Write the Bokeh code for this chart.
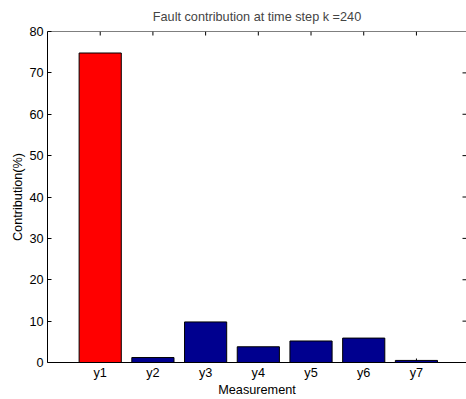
import math
from bokeh.plotting import figure
from bokeh.models import ColumnDataSource, Range1d, LinearAxis, FixedTicker, Span
from bokeh.embed import file_html
from bokeh.resources import INLINE

categories = ["y1", "y2", "y3", "y4", "y5", "y6", "y7"]
values = [74.8, 1.2, 9.8, 3.8, 5.2, 5.9, 0.5]
bar_colors = ["#FF0000", "#00008F", "#00008F", "#00008F", "#00008F", "#00008F", "#00008F"]
y_ticks = [0, 10, 20, 30, 40, 50, 60, 70, 80]

X_END = 7.95
Y_END = 80

xs = list(range(1, len(categories) + 1))
src = ColumnDataSource(dict(x=xs, top=values, color=bar_colors))

FONT = "Liberation Sans"
FS = "12.7px"

p = figure(width=466, height=399, output_backend="svg", toolbar_location=None,
           x_range=Range1d(0, X_END), y_range=Range1d(0, Y_END),
           min_border_left=47, min_border_right=0, min_border_top=0, min_border_bottom=37,
           x_axis_location=None, y_axis_location=None)
p.title.text = "Fault contribution at time step k =240"
p.title.text_font = FONT
p.title.text_font_size = FS
p.title.text_font_style = "normal"
p.title.align = "center"
p.title.offset = 0
p.title.standoff = 15
p.outline_line_color = None
p.xgrid.visible = False
p.ygrid.visible = False

# inward bottom ticks drawn first so the bars cover them
p.ray(x=xs, y=[0] * len(xs), length=4, length_units="screen",
      angle=math.pi / 2, line_color="black", line_width=1)

p.vbar(x="x", top="top", width=0.8, bottom=0, source=src,
       fill_color="color", line_color="black", line_width=1)

def style(ax):
    ax.axis_line_color = "black"
    ax.axis_line_width = 1
    ax.major_tick_in = 4
    ax.major_tick_out = 0
    ax.minor_tick_line_color = None
    ax.major_tick_line_color = "black"
    ax.major_label_text_font = FONT
    ax.major_label_text_font_size = FS
    ax.major_label_text_color = "black"
    ax.axis_label_text_font = FONT
    ax.axis_label_text_font_size = FS
    ax.axis_label_text_font_style = "normal"
    ax.axis_label_text_color = "black"

xticker = FixedTicker(ticks=xs)
yticker = FixedTicker(ticks=y_ticks)

bottom = LinearAxis(ticker=xticker, axis_label="Measurement")
bottom.major_label_overrides = {x: c for x, c in zip(xs, categories)}
style(bottom)
bottom.major_tick_in = 0
bottom.major_label_standoff = 3
bottom.axis_label_standoff = 0
p.add_layout(bottom, "below")

left = LinearAxis(ticker=yticker, axis_label="Contribution(%)")
style(left)
left.major_label_standoff = 4
left.axis_label_standoff = 1
p.add_layout(left, "left")

# top frame line and inward ticks on top and right edges
p.add_layout(Span(location=Y_END, dimension="width", line_color="black", line_width=1))
p.ray(x=xs, y=[Y_END] * len(xs), length=4, length_units="screen",
      angle=-math.pi / 2, line_color="black", line_width=1)
inner_y = y_ticks[1:-1]
p.ray(x=[X_END] * len(inner_y), y=inner_y, length=4, length_units="screen",
      angle=math.pi, line_color="black", line_width=1)

open("out.html", "w").write(file_html(p, INLINE))
